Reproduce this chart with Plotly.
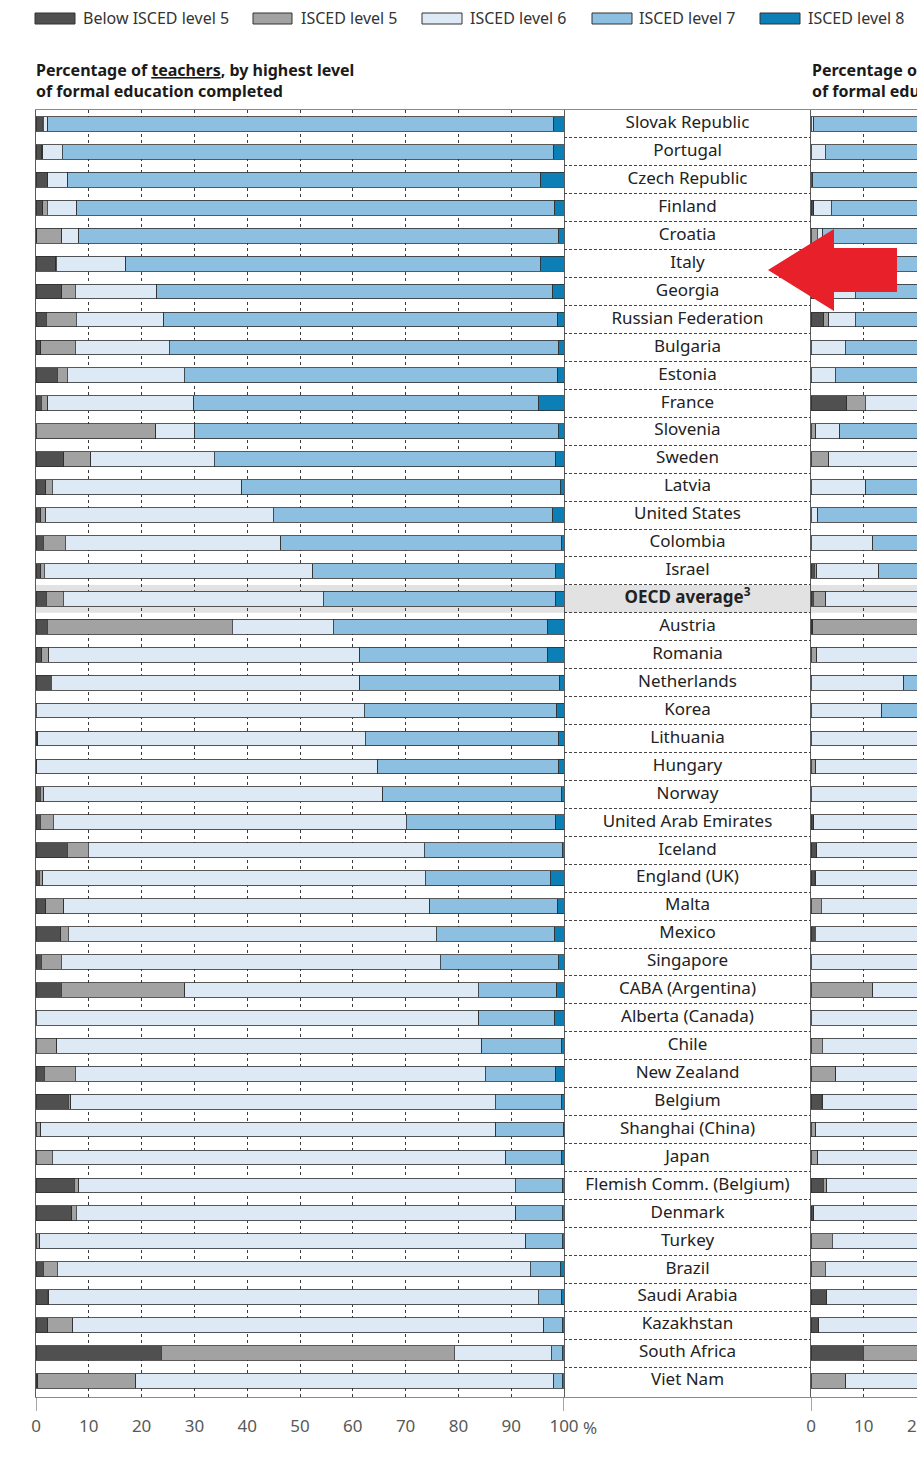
import plotly.graph_objects as go

# ---------------- data ----------------
countries = [
    "Slovak Republic", "Portugal", "Czech Republic", "Finland", "Croatia", "Italy",
    "Georgia", "Russian Federation", "Bulgaria", "Estonia", "France", "Slovenia",
    "Sweden", "Latvia", "United States", "Colombia", "Israel", "OECD average",
    "Austria", "Romania", "Netherlands", "Korea", "Lithuania", "Hungary", "Norway",
    "United Arab Emirates", "Iceland", "England (UK)", "Malta", "Mexico", "Singapore",
    "CABA (Argentina)", "Alberta (Canada)", "Chile", "New Zealand", "Belgium",
    "Shanghai (China)", "Japan", "Flemish Comm. (Belgium)", "Denmark", "Turkey",
    "Brazil", "Saudi Arabia", "Kazakhstan", "South Africa", "Viet Nam",
]

series_names = ["Below ISCED level 5", "ISCED level 5", "ISCED level 6",
                "ISCED level 7", "ISCED level 8"]

# Teachers (%)
t_below5 = [1.2, 1.1, 2.1, 1.3, 0.1, 3.7, 4.9, 1.9, 0.9, 4.0, 1.0, 0.0, 5.3, 1.8, 0.9, 1.4,
            0.9, 1.9, 2.1, 1.1, 2.9, 0.0, 0.3, 0.1, 0.8, 0.8, 5.9, 0.6, 1.8, 4.7, 1.0, 4.8,
            0.0, 0.0, 1.6, 6.1, 0.0, 0.0, 7.2, 6.8, 0.0, 1.4, 2.1, 2.2, 23.7, 0.3]
t_isced5 = [0.2, 0.2, 0.1, 0.8, 4.8, 0.1, 2.5, 5.7, 6.5, 1.9, 1.2, 22.7, 5.1, 1.3, 0.9, 4.1,
            0.7, 3.3, 35.1, 1.3, 0.0, 0.0, 0.0, 0.0, 0.7, 2.5, 4.0, 0.7, 3.5, 1.4, 3.8, 23.4,
            0.0, 3.9, 5.8, 0.5, 0.9, 3.1, 0.9, 0.8, 0.7, 2.6, 0.3, 4.8, 55.5, 18.6]
t_isced6 = [0.8, 3.7, 3.8, 5.6, 3.2, 13.2, 15.5, 16.6, 17.8, 22.2, 27.7, 7.4, 23.4, 35.9,
            43.1, 40.9, 50.8, 49.2, 19.1, 58.9, 58.4, 62.2, 62.1, 64.6, 64.2, 66.8, 63.6,
            72.4, 69.3, 69.7, 71.8, 55.6, 83.9, 80.5, 77.7, 80.4, 86.2, 85.9, 82.7, 83.3,
            92.1, 89.6, 92.7, 89.2, 18.4, 79.2]
t_isced7 = [95.9, 93.1, 89.6, 90.5, 90.9, 78.5, 75.0, 74.6, 73.8, 70.7, 65.3, 68.8, 64.6,
            60.3, 53.0, 53.1, 45.9, 44.0, 40.6, 35.6, 37.9, 36.4, 36.6, 34.3, 33.8, 28.3,
            26.2, 23.7, 24.2, 22.4, 22.3, 14.8, 14.3, 15.1, 13.3, 12.5, 12.8, 10.5, 8.9,
            8.8, 6.9, 5.7, 4.5, 3.5, 2.1, 1.6]
t_isced8 = [1.9, 1.9, 4.4, 1.8, 1.0, 4.5, 2.1, 1.2, 1.0, 1.2, 4.8, 1.1, 1.6, 0.7, 2.1, 0.5,
            1.7, 1.6, 3.1, 3.1, 0.8, 1.4, 1.0, 1.0, 0.5, 1.6, 0.3, 2.6, 1.2, 1.8, 1.1, 1.4,
            1.8, 0.5, 1.6, 0.5, 0.1, 0.5, 0.3, 0.3, 0.3, 0.7, 0.4, 0.3, 0.3, 0.3]

# Principals (%), right-hand panel (only its first ~20% is visible)
p_below5 = [0.0, 0.0, 0.0, 0.5, 0.0, 0.0, 0.0, 2.4, 0.0, 0.0, 6.8, 0.0, 0.0, 0.0, 0.0, 0.0,
            0.6, 0.4, 0.3, 0.0, 0.0, 0.0, 0.0, 0.0, 0.0, 0.5, 1.1, 0.6, 0.0, 0.8, 0.0, 0.0,
            0.0, 0.0, 0.0, 1.9, 0.0, 0.0, 2.3, 0.5, 0.0, 0.0, 3.0, 1.5, 9.9, 0.0]
p_isced5 = [0.0, 0.0, 0.0, 0.0, 1.2, 0.5, 0.5, 1.0, 0.0, 0.0, 3.5, 0.9, 3.4, 0.0, 0.0, 0.0,
            0.5, 2.4, 40.0, 1.1, 0.0, 0.0, 0.0, 0.9, 0.0, 0.0, 0.0, 0.3, 1.9, 0.0, 0.0, 11.7,
            0.0, 2.1, 4.7, 0.3, 0.9, 1.3, 0.7, 0.0, 4.0, 2.7, 0.0, 0.0, 45.0, 6.6]
p_isced6 = [0.5, 2.7, 0.3, 3.3, 1.0, 2.5, 7.9, 5.0, 6.5, 4.6, 45.0, 4.5, 60.0, 10.4, 1.3,
            11.7, 11.7, 30.0, 20.0, 50.0, 17.6, 13.4, 40.0, 60.0, 45.0, 35.0, 30.0, 40.0,
            40.0, 50.0, 30.0, 70.0, 35.0, 40.0, 50.0, 80.0, 85.0, 75.0, 80.0, 80.0, 75.0,
            55.0, 80.0, 90.0, 35.0, 85.0]
p_isced7 = [96.5, 94.0, 97.0, 93.0, 96.8, 90.0, 88.6, 89.6, 92.5, 92.4, 43.7, 93.6, 35.6,
            88.6, 88.7, 86.3, 84.2, 64.2, 37.7, 46.9, 80.4, 70.6, 58.0, 38.1, 54.0, 60.5,
            68.9, 57.1, 56.1, 44.2, 68.0, 17.3, 63.0, 56.9, 44.3, 17.8, 14.1, 23.7, 17.0,
            19.5, 20.5, 41.3, 16.5, 8.0, 9.6, 8.0]
p_isced8 = [3.0, 3.3, 2.7, 3.2, 1.0, 7.0, 3.0, 2.0, 1.0, 3.0, 1.0, 1.0, 1.0, 1.0, 10.0, 2.0,
            3.0, 3.0, 2.0, 2.0, 2.0, 16.0, 2.0, 1.0, 1.0, 4.0, 0.0, 2.0, 2.0, 5.0, 2.0, 1.0,
            2.0, 1.0, 1.0, 0.0, 0.0, 0.0, 0.0, 0.0, 0.5, 1.0, 0.5, 0.5, 0.5, 0.4]

highlight = "OECD average"
x_ticks = [0, 10, 20, 30, 40, 50, 60, 70, 80, 90, 100]
x2_ticks = [0, 10, 20]

# ---------------- styling ----------------
W, H = 917, 1459
TOP, BOTTOM = 110, 1397
FONT = "Noto Sans"
colors = ["#505050", "#a2a2a2", "#dde9f4", "#8cbfe0", "#0b7fb6"]
outline = "#2e2e2e"


def px(x):
    return x / W


def py(y):
    return (BOTTOM - y) / (BOTTOM - TOP)


n = len(countries)
y_range = [n - 1 + 0.573, -0.5]

fig = go.Figure()

teachers = [t_below5, t_isced5, t_isced6, t_isced7, t_isced8]
principals = [p_below5, p_isced5, p_isced6, p_isced7, p_isced8]

for name, col, vals in zip(series_names, colors, teachers):
    fig.add_trace(go.Bar(
        x=vals, y=countries, orientation="h", name=name,
        marker=dict(color=col, line=dict(color=outline, width=0.8)),
        xaxis="x", yaxis="y", showlegend=False, hoverinfo="x+y+name",
    ))

for name, col, vals in zip(series_names, colors, principals):
    fig.add_trace(go.Bar(
        x=vals, y=countries, orientation="h", name=name,
        marker=dict(color=col, line=dict(color=outline, width=0.8)),
        xaxis="x2", yaxis="y", showlegend=False, hoverinfo="x+y+name",
    ))

labels = [f"<b>{c}<sup>3</sup></b>" if c == highlight else c for c in countries]
fig.add_trace(go.Scatter(
    x=[0.5] * n, y=countries, mode="text", text=labels,
    textfont=dict(family=FONT, size=17, color="#222222"),
    xaxis="x3", yaxis="y2", showlegend=False, hoverinfo="skip",
))

tickfont = dict(family=FONT, size=17, color="#595959")
common_x = dict(
    showgrid=True, gridcolor="#3a3a3a", griddash="3px,3px", gridwidth=1,
    showline=True, linecolor="#8a8a8a", linewidth=1.2, mirror=True,
    ticks="outside", ticklen=13, tickcolor="rgba(0,0,0,0)",
    tickfont=tickfont, zeroline=False, fixedrange=True, automargin=False,
)

fig.update_layout(
    template="none",
    width=W, height=H, autosize=False,
    margin=dict(l=0, r=0, t=TOP, b=H - BOTTOM, pad=0, autoexpand=False),
    paper_bgcolor="white", plot_bgcolor="white",
    barmode="stack", bargap=0.47,
    font=dict(family=FONT, color="#222222"),
    showlegend=False,
    xaxis=dict(domain=[px(36), px(564)], range=[0, 100], anchor="y",
               tickvals=x_ticks, ticktext=[str(t) for t in x_ticks], **common_x),
    xaxis2=dict(domain=[px(811), 1.0], range=[0, (917 - 811) / 5.28], anchor="y",
                tickvals=x2_ticks, ticktext=[str(t) for t in x2_ticks],
                ticklabeloverflow="allow", **common_x),
    xaxis3=dict(domain=[px(564), px(811)], range=[0, 1], anchor="y2",
                showgrid=False, showticklabels=False, ticks="", zeroline=False,
                showline=True, linecolor="#8a8a8a", linewidth=1.2, mirror=True,
                fixedrange=True, automargin=False),
    yaxis=dict(domain=[0, 1], type="category", categoryorder="array",
               categoryarray=countries, range=y_range, autorange=False,
               showticklabels=False, showgrid=False, ticks="", anchor="x",
               showline=True, linecolor="#5a5a5a", linewidth=1.2, mirror="all",
               zeroline=False, fixedrange=True, automargin=False),
    yaxis2=dict(domain=[0, 1], type="category", categoryorder="array",
                categoryarray=countries, range=y_range, autorange=False,
                anchor="x3", tickson="boundaries", showgrid=True,
                gridcolor="#444444", griddash="3px,2px", gridwidth=1,
                showticklabels=False, ticks="", showline=False, zeroline=False,
                fixedrange=True, automargin=False),
)

shapes = []
hi = countries.index(highlight)
shapes.append(dict(type="rect", xref="paper", yref="y", x0=px(36), x1=1.0,
                   y0=hi - 0.5, y1=hi + 0.5, fillcolor="#e2e2e2",
                   line=dict(width=0), layer="below"))

# panel border extensions below the axis (at 0 and 100)
for xr, xv in (("x", 0), ("x", 100), ("x2", 0)):
    shapes.append(dict(type="line", xref=xr, yref="paper", x0=xv, x1=xv,
                       y0=py(1411), y1=0, line=dict(color="#6a6a6a", width=1.2)))

# legend swatches
legend_boxes = [(35, 75), (253, 292), (422, 462), (592, 632), (760, 800)]
legend_text_x = [81, 299, 468, 637, 806]
annotations = []
for (x0, x1), tx, name, col in zip(legend_boxes, legend_text_x, series_names, colors):
    shapes.append(dict(type="rect", xref="paper", yref="paper",
                       x0=px(x0), x1=px(x1), y0=py(24), y1=py(13),
                       fillcolor=col, line=dict(color="#333333", width=1)))
    annotations.append(dict(xref="paper", yref="paper", x=px(tx), y=py(18.5),
                            xanchor="left", yanchor="middle", showarrow=False,
                            text=name, font=dict(family=FONT, size=16, color="#333333")))

# red arrow pointing at Italy
ay = 270
arrow_pts = [(768, ay), (834, ay - 41), (834, ay - 22), (897, ay - 22),
             (897, ay + 22), (834, ay + 22), (834, ay + 41)]
path = "M " + " L ".join(f"{px(x):.5f},{py(y):.5f}" for x, y in arrow_pts) + " Z"
shapes.append(dict(type="path", xref="paper", yref="paper", path=path,
                   fillcolor="#e8202a", line=dict(width=0), layer="above"))

# panel titles
annotations.append(dict(
    xref="paper", yref="paper", x=px(34), y=py(57), xanchor="left", yanchor="top",
    align="left", showarrow=False,
    text="<b>Percentage of <u>teachers</u>, by highest level<br>of formal education completed</b>",
    font=dict(family=FONT, size=16, color="#1a1a1a")))
annotations.append(dict(
    xref="paper", yref="paper", x=px(810), y=py(57), xanchor="left", yanchor="top",
    align="left", showarrow=False,
    text="<b>Percentage of <u>principals</u>, by highest level<br>of formal education completed</b>",
    font=dict(family=FONT, size=16, color="#1a1a1a")))

# percent sign after the 100 tick
annotations.append(dict(xref="x", yref="paper", x=100, y=py(1427), xanchor="left",
                        yanchor="middle", xshift=17, showarrow=False, text="%",
                        font=tickfont))

fig.update_layout(shapes=shapes, annotations=annotations)

fig.write_html(
    "out.html",
    config={"responsive": False, "displayModeBar": False},
    post_script=(
        "document.documentElement.style.margin='0';"
        "document.body.style.margin='0';"
        "document.documentElement.style.overflow='hidden';"
        "document.body.style.overflow='hidden';"
    ),
)
